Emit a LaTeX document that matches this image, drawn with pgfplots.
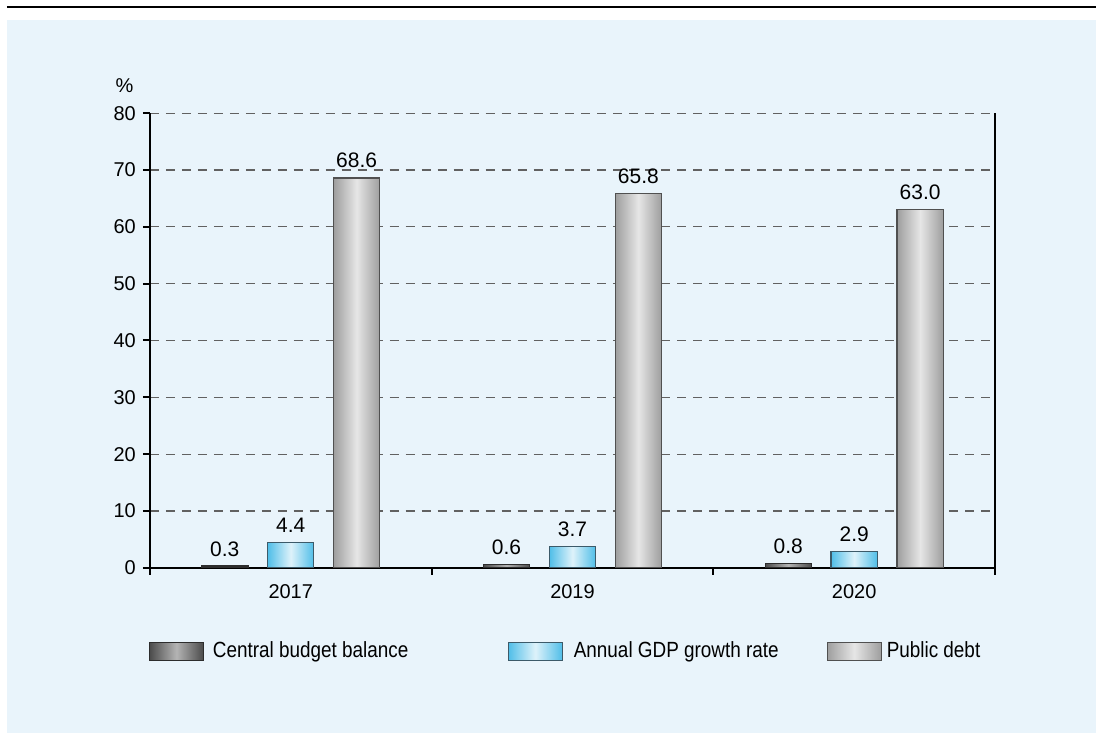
\documentclass[border=0pt]{standalone}
\usepackage{fontspec}
\setmainfont{Liberation Sans}
\newfontfamily\narrowfont[FakeStretch=0.86]{Liberation Sans}
\usepackage{pgfplots}
\pgfplotsset{compat=1.18}
\definecolor{panel}{RGB}{233,244,251}
\definecolor{cbedge}{RGB}{75,75,75}
\definecolor{cbmid}{RGB}{180,180,180}
\definecolor{cbdraw}{RGB}{45,45,45}
\definecolor{gdpedge}{RGB}{80,190,232}
\definecolor{gdpmid}{RGB}{222,242,250}
\definecolor{gdpdraw}{RGB}{60,90,105}
\definecolor{pdedge}{RGB}{158,158,158}
\definecolor{pdmid}{RGB}{230,230,230}
\definecolor{pddraw}{RGB}{80,80,80}
\pgfplotsset{
  barbase/.style={ybar, bar width=23.15pt, bar shift=0pt, line width=0.6pt},
  cb/.style={barbase, draw=cbdraw, left color=cbedge, right color=cbedge, middle color=cbmid},
  gdp/.style={barbase, draw=gdpdraw, left color=gdpedge, right color=gdpedge, middle color=gdpmid},
  pd/.style={barbase, draw=pddraw, left color=pdedge, right color=pdedge, middle color=pdmid},
}
\begin{document}
\begin{tikzpicture}
\fill[white] (0,0) rectangle (548.5pt,367pt);
\fill[panel] (3.5pt,0) rectangle (548.5pt,357pt);
\draw[black, line width=1pt] (3.5pt,363.5pt) -- (548.5pt,363.5pt);
\begin{axis}[
  at={(75pt,82.85pt)}, anchor=south west,
  scale only axis, width=423pt, height=227.5pt,
  xmin=-0.5, xmax=2.5, ymin=0, ymax=80,
  axis x line*=bottom, axis y line*=box,
  ytick pos=left,
  axis line style={line width=1.1pt, black},
  tick style={line width=1pt, black},
  tick align=outside,
  major tick length=3.5pt,
  minor tick length=3.5pt,
  xtick={0,1,2}, xticklabels={2017,2019,2020},
  major x tick style={draw=none},
  minor xtick={-0.5,0.5,1.5,2.5},
  xticklabel style={yshift=-1.5pt},
  ytick={0,10,...,80},
  ymajorgrids,
  grid style={dash pattern=on 4.5pt off 3.5pt, black!62, line width=0.55pt},
  /pgf/number format/assume math mode=true,
  tick label style={font=\fontsize{10}{12}\selectfont},
  nodes near coords={\pgfmathprintnumber[fixed,fixed zerofill,precision=1]{\pgfplotspointmeta}},
  every node near coord/.append style={font=\fontsize{10.5}{12}\selectfont, anchor=base, yshift=5pt, inner sep=0pt, text=black},
  clip=false,
  legend columns=3,
  legend style={at={(axis description cs:-0.0012,-0.184)}, anchor=west, draw=none, fill=none,
    inner sep=0pt, outer sep=0pt, column sep=0pt, row sep=0pt,
    nodes={inner sep=0pt, outer sep=0pt},
    font=\fontsize{11}{13}\selectfont\narrowfont,
    /tikz/every even column/.style={column sep=0pt}},
  legend image code/.code={\draw[#1] (0pt,-4.35pt) rectangle (27pt,4.35pt);},
]
\addlegendimage{cb}
\addlegendentry{\makebox[152pt][l]{\hspace{4.5pt}Central budget balance}}
\addlegendimage{gdp}
\addlegendentry{\makebox[132pt][l]{\hspace{5.5pt}Annual GDP growth rate}}
\addlegendimage{pd}
\addlegendentry{\hspace{2.5pt}Public debt}
% Central budget balance (left bar of each group)
\addplot[cb, forget plot] coordinates {(-0.234,0.3)};
\addplot[cb, forget plot] coordinates {(0.766,0.6)};
\addplot[cb, forget plot] coordinates {(1.766,0.8)};
% Annual GDP growth rate (middle bar)
\addplot[gdp, forget plot] coordinates {(0,4.4)};
\addplot[gdp, forget plot] coordinates {(1,3.7)};
\addplot[gdp, forget plot] coordinates {(2,2.9)};
% Public debt (right bar)
\addplot[pd, forget plot] coordinates {(0.234,68.6)};
\addplot[pd, forget plot] coordinates {(1.234,65.8)};
\addplot[pd, forget plot] coordinates {(2.234,63.0)};
\node[anchor=base east, inner sep=0pt, font=\fontsize{10}{12}\selectfont] at (rel axis cs:0,1) [xshift=-8pt, yshift=10.5pt] {\%};
\end{axis}
\end{tikzpicture}
\end{document}
